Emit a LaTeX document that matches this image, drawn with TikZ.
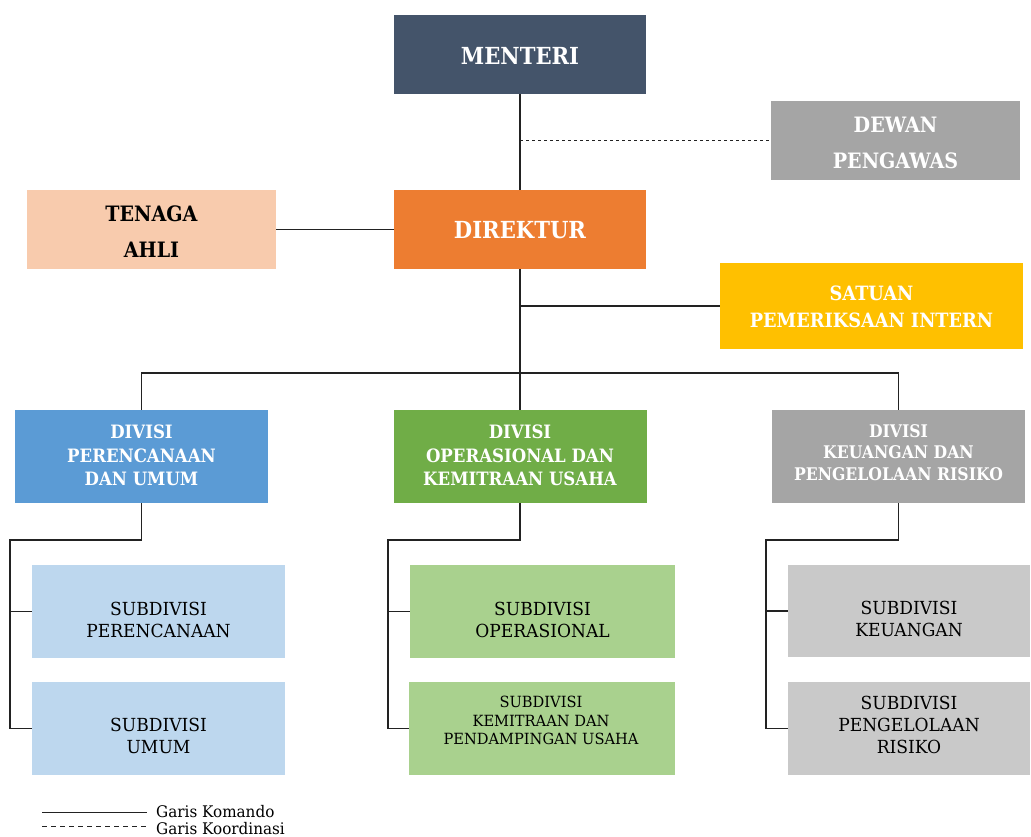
\documentclass[tikz,border=0pt]{standalone}
\usepackage{fontspec}
\setmainfont{DejaVu Serif}
\newfontfamily\bk[FakeStretch=0.9]{DejaVu Serif}
\newfontfamily\rg[FakeStretch=0.95]{DejaVu Serif}
\definecolor{cMen}{HTML}{44546A}
\definecolor{cGray}{HTML}{A5A5A5}
\definecolor{cTen}{HTML}{F8CBAD}
\definecolor{cDir}{HTML}{ED7D31}
\definecolor{cSat}{HTML}{FFC000}
\definecolor{cD1}{HTML}{5B9BD5}
\definecolor{cD2}{HTML}{70AD47}
\definecolor{cS1}{HTML}{BDD7EE}
\definecolor{cS2}{HTML}{A9D18E}
\definecolor{cS3}{HTML}{C9C9C9}
\definecolor{cLine}{HTML}{222222}
\begin{document}
\begin{tikzpicture}[x=1pt,y=-1pt,
  box/.style={rectangle, inner sep=0pt, draw=none},
  txt/.style={inner sep=0pt, align=center},
  huge/.style={txt, font=\bk\bfseries\fontsize{23.5}{36}\selectfont},
  big/.style={txt, font=\bk\bfseries\fontsize{21.2}{36.5}\selectfont},
  mid/.style={txt, font=\bk\bfseries\fontsize{19.7}{27}\selectfont},
  dv/.style={txt, font=\bk\bfseries\fontsize{18.4}{23.5}\selectfont},
  dvs/.style={txt, font=\bk\bfseries\fontsize{17.4}{21.5}\selectfont},
  sub/.style={txt, font=\rg\fontsize{18}{22}\selectfont},
  subs/.style={txt, font=\rg\fontsize{15.4}{18.5}\selectfont},
  ln/.style={line width=1.5pt, draw=cLine},
  lg/.style={txt, anchor=west, font=\rg\fontsize{16}{16}\selectfont}
]
\useasboundingbox (0,0) rectangle (1031,837);
% boxes
\node[box, fill=cMen, minimum width=252pt, minimum height=79pt] (menteri) at (520,54.5) {};
\node[box, fill=cGray, minimum width=249pt, minimum height=79pt] (dewan) at (895.5,140.5) {};
\node[box, fill=cTen, minimum width=249pt, minimum height=79pt] (tenaga) at (151.5,229.5) {};
\node[box, fill=cDir, minimum width=252pt, minimum height=79pt] (direktur) at (520,229.5) {};
\node[box, fill=cSat, minimum width=303pt, minimum height=86pt] (satuan) at (871.5,306) {};
\node[box, fill=cD1, minimum width=253pt, minimum height=93pt] (div1) at (141.5,456.5) {};
\node[box, fill=cD2, minimum width=253pt, minimum height=93pt] (div2) at (520,456.5) {};
\node[box, fill=cGray, minimum width=253pt, minimum height=93pt] (div3) at (898.5,456.5) {};
\node[box, fill=cS1, minimum width=253pt, minimum height=93pt] (s1a) at (158.5,611.5) {};
\node[box, fill=cS1, minimum width=253pt, minimum height=93pt] (s1b) at (158.5,728.5) {};
\node[box, fill=cS2, minimum width=265pt, minimum height=93pt] (s2a) at (542.5,611.5) {};
\node[box, fill=cS2, minimum width=266pt, minimum height=93pt] (s2b) at (542,728.5) {};
\node[box, fill=cS3, minimum width=242pt, minimum height=92pt] (s3a) at (909,611) {};
\node[box, fill=cS3, minimum width=242pt, minimum height=93pt] (s3b) at (909,728.5) {};
% texts
\node[huge, text=white] (tmenteri) at (520,56) {MENTERI};
\node[big, text=white] (tdewan) at (895.5,143) {DEWAN\\PENGAWAS};
\node[big, text=black] (ttenaga) at (151.5,231.5) {TENAGA\\AHLI};
\node[huge, text=white] (tdirektur) at (520,230) {DIREKTUR};
\node[mid, text=white] (tsatuan) at (871.5,306.5) {SATUAN\\PEMERIKSAAN INTERN};
\node[dv, text=white] (tdiv1) at (141.5,455.5) {DIVISI\\PERENCANAAN\\DAN UMUM};
\node[dv, text=white] (tdiv2) at (520,455.5) {DIVISI\\OPERASIONAL DAN\\KEMITRAAN USAHA};
\node[dvs, text=white] (tdiv3) at (898.5,452.5) {DIVISI\\KEUANGAN DAN\\PENGELOLAAN RISIKO};
\node[sub, text=black] (ts1a) at (158.5,619.5) {SUBDIVISI\\PERENCANAAN};
\node[sub, text=black] (ts1b) at (158.5,736) {SUBDIVISI\\UMUM};
\node[sub, text=black] (ts2a) at (542.5,619.5) {SUBDIVISI\\OPERASIONAL};
\node[subs, text=black] (ts2b) at (541,720.5) {SUBDIVISI\\KEMITRAAN DAN\\PENDAMPINGAN USAHA};
\node[sub, text=black] (ts3a) at (909,619) {SUBDIVISI\\KEUANGAN};
\node[sub, text=black] (ts3b) at (909,725) {SUBDIVISI\\PENGELOLAAN\\RISIKO};
% connectors
\coordinate (bus) at (520,373);
\draw[ln] (menteri.south) -- (direktur.north);
\draw[ln, dashed] (menteri.south |- dewan.west) -- (dewan.west);
\draw[ln] (tenaga.east) -- (direktur.west);
\draw[ln] (direktur.south) -- (bus);
\draw[ln] (direktur.south |- satuan.west) -- (satuan.west);
\draw[ln] (div1.north) -- (div1.north |- bus) -- (div3.north |- bus) -- (div3.north);
\draw[ln] (bus) -- (div2.north);
\coordinate (j1) at (10,540);
\coordinate (j2) at (388,540);
\coordinate (j3) at (766,540);
\draw[ln] (div1.south) |- (j1) -- (j1 |- s1b.west) -- (s1b.west);
\draw[ln] (j1 |- s1a.west) -- (s1a.west);
\draw[ln] (div2.south) |- (j2) -- (j2 |- s2b.west) -- (s2b.west);
\draw[ln] (j2 |- s2a.west) -- (s2a.west);
\draw[ln] (div3.south) |- (j3) -- (j3 |- s3b.west) -- (s3b.west);
\draw[ln] (j3 |- s3a.west) -- (s3a.west);
% legend
\coordinate (la1) at (42,812);
\coordinate (la2) at (147,812);
\coordinate (lb1) at (42,826);
\coordinate (lb2) at (147,826);
\draw[line width=1pt, draw=cLine] (la1) -- (la2);
\draw[line width=1pt, draw=cLine, dash pattern=on 5pt off 4pt] (lb1) -- (lb2);
\node[lg] (lga) at (156,812) {Garis Komando};
\node[lg] (lgb) at (156,829) {Garis Koordinasi};
\end{tikzpicture}
\end{document}
